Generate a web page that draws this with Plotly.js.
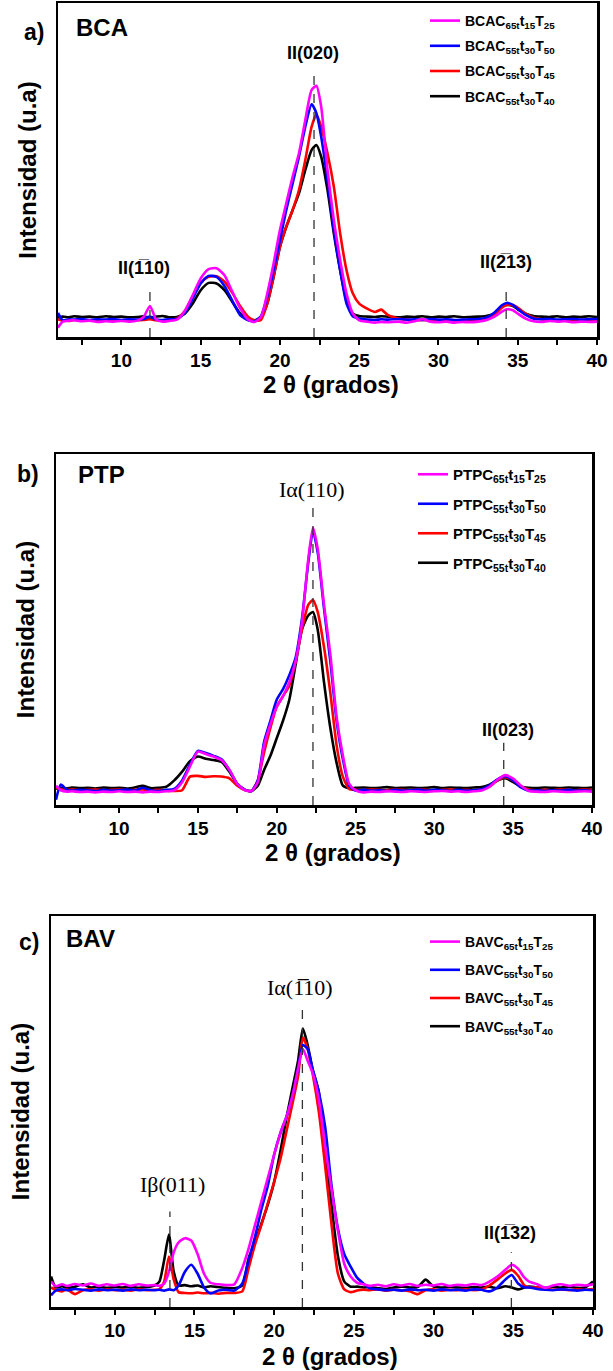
<!DOCTYPE html>
<html>
<head>
<meta charset="utf-8">
<script src="https://cdn.plot.ly/plotly-3.0.1.min.js"></script>
<style>
html,body{margin:0;padding:0;background:#fff;}
#chart{width:613px;height:1371px;}
</style>
</head>
<body>
<div id="chart"></div>
<script>
// ---------------- Panel a) BCA ----------------
const xA = [
  6, 6.3, 6.7, 7, 7.5, 8, 8.5, 9, 9.5, 10,
  10.5, 11, 11.4, 11.8, 12.2, 12.6, 13, 13.5, 14, 14.5,
  15, 15.5, 16, 16.5, 17, 17.5, 18, 18.4, 18.8, 19.2,
  19.6, 20, 20.4, 20.8, 21.2, 21.6, 22, 22.3, 22.6, 23,
  23.4, 23.8, 24.2, 24.6, 25, 25.5, 26, 26.4, 26.8, 27.5,
  28, 28.5, 29, 29.5, 30, 30.5, 31, 31.5, 32, 32.5,
  33, 33.5, 34, 34.3, 34.7, 35, 35.5, 36, 36.5, 37,
  37.5, 38, 38.5, 39, 39.5, 40];
const magentaA = [
  2.8, 4.6, 4.9, 5.0, 4.7, 4.9, 4.5, 4.7, 4.6, 4.8,
  4.6, 4.9, 6.0, 9.3, 5.2, 4.6, 4.8, 5.2, 7.8, 12.5,
  17.5, 20.3, 20.6, 18.5, 13.5, 8.5, 5.2, 4.5, 6.0, 13,
  22, 32, 40, 48, 55, 65, 74, 75.2, 69, 50,
  35, 23, 13, 7, 5, 4.6, 4.3, 4.5, 4.4, 4.6,
  4.3, 4.7, 5.3, 4.6, 4.4, 4.6, 4.3, 4.5, 4.4, 4.6,
  5.0, 6.0, 7.6, 8.3, 8.0, 7.0, 5.5, 4.7, 4.5, 4.8,
  4.6, 4.7, 4.4, 4.6, 4.5, 4.6];
const blueA = [
  7.2, 5.0, 5.3, 5.2, 5.4, 5.1, 5.3, 5.2, 5.4, 5.1,
  5.3, 5.2, 5.4, 6.1, 5.2, 5.1, 5.3, 5.4, 7.2, 11.5,
  16, 18.3, 18.0, 15.3, 10.8, 6.5, 5.0, 4.8, 6.2, 12,
  20, 29, 38, 46, 54, 63, 69.7, 67, 60, 47,
  32, 20, 10, 6.2, 5.5, 5.2, 5.1, 5.3, 5.2, 5.4,
  5.2, 5.3, 5.1, 5.4, 5.2, 5.3, 5.1, 5.2, 5.3, 5.4,
  5.8, 7.2, 9.5, 10.2, 9.6, 8.4, 6.6, 5.5, 5.3, 5.4,
  5.2, 5.3, 5.4, 5.2, 5.3, 5.4];
const redA = [
  5.3, 5.0, 4.8, 5.1, 4.9, 5.0, 4.8, 5.1, 4.9, 5.0,
  4.8, 5.0, 5.1, 5.3, 5.0, 4.9, 5.1, 5.6, 7.8, 12.2,
  16.2, 18.0, 18.2, 16.6, 13.2, 9.2, 6.0, 5.0, 5.1, 10,
  18, 27, 33, 38, 44, 53, 63, 66.5, 63, 55,
  45, 31, 20, 13, 10, 8.5, 7.5, 8.2, 6.6, 5.5,
  5.2, 5.0, 5.1, 4.9, 5.0, 5.1, 4.9, 5.0, 5.1, 5.2,
  5.6, 6.6, 8.8, 9.6, 9.5, 8.8, 7.0, 5.8, 5.3, 5.1,
  5.0, 5.2, 4.9, 5.1, 5.0, 5.1];
const blackA = [
  5.8, 6.1, 5.9, 6.2, 6.0, 6.1, 5.9, 6.2, 6.0, 6.1,
  5.9, 6.0, 6.2, 5.8, 6.1, 6.3, 5.9, 6.0, 7.0, 10,
  14, 16.2, 16.0, 14.0, 10.5, 7.0, 5.5, 5.0, 5.9, 10,
  18, 27, 33, 38, 43, 50, 56, 57.5, 54, 44,
  31, 20, 11, 7, 6.3, 6.1, 6.0, 6.2, 6.1, 5.9,
  6.1, 6.0, 6.2, 5.9, 6.1, 6.0, 6.2, 5.9, 6.0, 6.1,
  6.3, 7.0, 9.0, 9.6, 9.3, 8.3, 7.0, 6.3, 6.1, 6.0,
  6.2, 5.9, 6.1, 6.0, 6.2, 6.0];
const namesA = [
  'BCAC<sub>65t</sub>t<sub>15</sub>T<sub>25</sub>',
  'BCAC<sub>55t</sub>t<sub>30</sub>T<sub>50</sub>',
  'BCAC<sub>55t</sub>t<sub>30</sub>T<sub>45</sub>',
  'BCAC<sub>55t</sub>t<sub>30</sub>T<sub>40</sub>'];
const peakXA = [11.8, 22.15, 34.27];
const peakLabelXA = [11.4, 22.07, 34.27];
const peakLabelYA = [20.6, 85, 22.5];
const peakTopA = [16, 79, 14];
const peakTextA = ['II(1\u030510)', 'II(020)', 'II(2\u030513)'];
const peakSerifA = [false, false, false];

// ---------------- Panel b) PTP ----------------
const xB = [
  6, 6.3, 6.7, 7, 7.5, 8, 8.5, 9, 9.5, 10,
  10.5, 11, 11.5, 12, 12.5, 13, 13.5, 14, 14.5, 15,
  15.5, 16, 16.5, 17, 17.5, 18, 18.4, 18.8, 19.2, 19.6,
  20, 20.4, 20.8, 21.2, 21.6, 22, 22.3, 22.6, 23, 23.4,
  23.8, 24.2, 24.6, 25, 25.5, 26, 26.5, 27, 27.5, 28,
  28.5, 29, 29.5, 30, 30.5, 31, 31.5, 32, 32.5, 33,
  33.5, 34, 34.5, 35, 35.5, 36, 36.5, 37, 37.5, 38,
  38.5, 39, 39.5, 40];
const magentaB = [
  5.5, 4.2, 3.8, 3.9, 3.7, 3.8, 3.6, 3.8, 3.7, 3.9,
  3.7, 3.8, 3.6, 3.8, 3.7, 3.9, 4.2, 6.5, 11, 15.2,
  14.5, 13.8, 12.8, 10, 6, 4.2, 4.0, 6.5, 17, 23,
  28, 31, 35, 41, 52, 70, 79, 73, 57, 43,
  25, 14, 6, 4.2, 3.6, 3.8, 3.7, 3.9, 3.8, 3.7,
  3.9, 3.8, 3.7, 3.9, 4.0, 3.8, 3.9, 3.7, 3.9, 4.1,
  5.2, 7.2, 8.5, 7.5, 5.5, 4.0, 3.8, 3.7, 3.9, 3.8,
  3.7, 3.8, 3.9, 3.8];
const blueB = [
  1.5, 5.8, 4.3, 4.1, 4.3, 4.2, 4.0, 4.3, 4.1, 4.2,
  4.4, 4.1, 4.9, 4.2, 4.0, 4.3, 4.6, 7.0, 11.5, 15.4,
  14.8, 14.0, 13.0, 10, 6, 4.3, 4.0, 7, 18, 24,
  30, 33, 37, 42, 53, 69, 78, 72, 56, 41,
  24, 13, 5.5, 4.1, 4.3, 4.1, 4.2, 4.0, 4.3, 4.1,
  4.2, 4.4, 4.1, 4.3, 4.2, 4.0, 4.3, 4.1, 4.2, 4.5,
  5.6, 7.3, 8.2, 7.0, 5.0, 4.1, 4.2, 4.0, 4.2, 4.1,
  4.3, 4.1, 4.2, 4.0];
const redB = [
  5.0, 4.5, 4.3, 4.4, 4.2, 4.3, 4.4, 4.2, 4.3, 4.4,
  4.2, 4.3, 4.4, 4.2, 4.3, 4.1, 4.0, 4.2, 8.1, 8.3,
  8.0, 8.2, 8.1, 7.6, 5.5, 4.2, 4.0, 7, 15, 22,
  28, 31, 34, 41, 50, 57, 58.4, 55, 45, 32,
  17, 8, 4.6, 4.3, 4.2, 4.4, 4.3, 4.2, 4.4, 4.3,
  4.2, 4.4, 4.3, 4.1, 4.3, 4.4, 4.2, 4.3, 4.2, 4.4,
  5.3, 7.0, 7.9, 7.0, 5.2, 4.4, 4.2, 4.3, 4.2, 4.4,
  4.3, 4.2, 4.4, 4.3];
const blackB = [
  4.6, 4.9, 4.7, 5.0, 4.8, 4.9, 4.7, 5.0, 4.8, 4.9,
  4.7, 5.0, 5.5, 4.8, 4.9, 5.2, 7.0, 9.5, 12.5, 13.8,
  13.2, 12.8, 12.3, 9.5, 6, 4.3, 4.0, 5.5, 10, 14,
  19, 24, 30, 40, 50, 54, 55, 50, 35, 22,
  12, 5.5, 4.8, 4.9, 5.0, 4.8, 4.9, 5.1, 4.8, 4.9,
  5.0, 4.8, 4.9, 5.1, 4.8, 5.0, 4.9, 4.8, 5.0, 5.1,
  5.8, 7.0, 7.6, 6.5, 5.2, 4.9, 4.8, 5.0, 4.9, 4.8,
  5.0, 4.9, 4.8, 5.0];
const namesB = [
  'PTPC<sub>65t</sub>t<sub>15</sub>T<sub>25</sub>',
  'PTPC<sub>55t</sub>t<sub>30</sub>T<sub>50</sub>',
  'PTPC<sub>55t</sub>t<sub>30</sub>T<sub>45</sub>',
  'PTPC<sub>55t</sub>t<sub>30</sub>T<sub>40</sub>'];
const peakXB = [22.3, 34.4];
const peakLabelXB = [22.27, 34.7];
const peakLabelYB = [90, 21.4];
const peakTopB = [85, 17.7];
const peakTextB = ['I\u03b1(110)', 'II(023)'];
const peakSerifB = [true, false];

// ---------------- Panel c) BAV ----------------
const xC = [
  6, 6.3, 6.7, 7, 7.5, 8, 8.5, 9, 9.5, 10,
  10.5, 11, 11.5, 12, 12.5, 12.8, 13.1, 13.4, 13.7, 14,
  14.4, 14.8, 15.2, 15.6, 16, 16.5, 17, 17.5, 18, 18.4,
  18.8, 19.2, 19.6, 20, 20.4, 20.8, 21.2, 21.5, 21.8, 22.1,
  22.4, 22.8, 23.2, 23.6, 24, 24.4, 24.8, 25.2, 25.6, 26,
  26.5, 27, 27.5, 28, 28.5, 29, 29.5, 30, 30.5, 31,
  31.5, 32, 32.5, 33, 33.5, 34, 34.5, 34.9, 35.3, 35.7,
  36, 36.5, 37, 37.5, 38, 38.5, 39, 39.5, 40];
const magentaC = [
  6.5, 5.3, 5.8, 5.4, 5.9, 5.5, 6.0, 5.4, 5.8, 5.5,
  5.9, 5.4, 5.8, 5.5, 5.6, 5.4, 6.0, 9.0, 14, 16.5,
  17.6, 17.0, 13.5, 8.5, 6.2, 5.8, 5.6, 5.8, 10, 15,
  21, 27, 33, 39, 44.6, 49, 55, 61, 66, 63,
  60, 53, 41, 30, 19.5, 11, 7.8, 6.2, 5.8, 5.4,
  5.7, 5.3, 5.8, 5.5, 5.9, 5.4, 5.7, 5.5, 5.9, 5.4,
  5.7, 5.5, 5.9, 5.6, 6.5, 7.8, 9.5, 10.8, 9.8, 7.5,
  6.5, 5.8, 4.9, 5.5, 5.8, 5.4, 5.7, 5.5, 5.8];
const blueC = [
  3.0, 4.2, 4.5, 4.3, 4.6, 4.4, 4.2, 4.5, 4.3, 4.4,
  4.2, 4.5, 4.3, 4.4, 4.3, 4.4, 4.2, 4.5, 4.3, 5.5,
  9.0, 10.8, 8.5, 5.0, 3.5, 4.2, 4.4, 4.2, 6, 12,
  18, 25, 31, 39, 44.6, 49, 55, 61, 67, 66,
  61, 55, 46, 31, 20, 13.5, 10.3, 7.5, 6.0, 4.8,
  4.5, 4.3, 4.4, 4.2, 4.5, 4.3, 4.4, 4.2, 4.5, 4.3,
  4.4, 4.2, 4.5, 4.4, 4.0, 5.0, 7.0, 8.2, 6.0, 5.0,
  5.0, 4.6, 4.4, 4.3, 4.5, 4.4, 4.2, 4.4, 4.3];
const redC = [
  5.0, 4.4, 4.0, 4.5, 3.3, 4.3, 4.5, 4.2, 4.5, 4.3,
  4.4, 4.2, 4.5, 4.3, 4.4, 4.5, 6.5, 12.9, 7.0, 3.8,
  3.6, 3.5, 3.7, 3.5, 3.6, 3.4, 3.6, 3.6, 4.0, 10,
  16, 21, 26.5, 32, 38, 45.5, 53, 59, 69, 66,
  60, 50, 36, 21, 8.5, 4.5, 3.8, 4.2, 4.4, 4.3,
  4.5, 4.2, 4.4, 4.3, 4.0, 3.3, 4.3, 4.5, 4.2, 4.4,
  4.3, 4.5, 4.3, 4.5, 5.5, 7.0, 8.6, 9.5, 8.0, 5.5,
  5.0, 5.0, 4.6, 4.4, 4.5, 4.3, 4.5, 4.4, 4.6];
const blackC = [
  7.8, 5.0, 5.3, 4.9, 5.2, 5.8, 5.0, 5.2, 4.9, 5.1,
  5.0, 5.2, 4.9, 5.1, 5.5, 6.5, 12, 18.5, 9, 5.5,
  5.6, 5.3, 5.5, 5.0, 5.3, 5.1, 4.9, 4.8, 5.5, 12.5,
  16.5, 21.3, 26.2, 32, 40, 49, 57, 63, 71.2, 67,
  61, 55, 40, 26, 13, 6.5, 5.2, 5.2, 5.0, 5.1,
  4.8, 4.6, 5.0, 5.2, 5.0, 5.1, 7.0, 5.2, 5.0, 5.1,
  5.0, 4.9, 5.1, 5.0, 5.2, 4.8, 5.3, 5.0, 4.5, 5.0,
  5.2, 5.0, 4.9, 5.1, 5.0, 5.2, 4.9, 5.0, 6.5];
const namesC = [
  'BAVC<sub>65t</sub>t<sub>15</sub>T<sub>25</sub>',
  'BAVC<sub>55t</sub>t<sub>30</sub>T<sub>50</sub>',
  'BAVC<sub>55t</sub>t<sub>30</sub>T<sub>45</sub>',
  'BAVC<sub>55t</sub>t<sub>30</sub>T<sub>40</sub>'];
const peakXC = [13.46, 21.77, 34.88];
const peakLabelXC = [13.6, 21.6, 34.8];
const peakLabelYC = [31.3, 81.8, 19];
const peakTopC = [24.4, 77, 14];
const peakTextC = ['I\u03b2(011)', 'I\u03b1(1\u030510)', 'II(1\u030532)'];
const peakSerifC = [true, true, false];

const xTicks = [10, 15, 20, 25, 30, 35, 40];
const xTitle = '2 \u03b8 (grados)';
const yTitle = 'Intensidad (u.a)';
const panelLetters = ['a)', 'b)', 'c)'];
const panelNames = ['BCA', 'PTP', 'BAV'];
const seriesColors = ['#ff00ff', '#0000ff', '#ff0000', '#000000'];

// ---------------- Build figure ----------------
const W = 613, H = 1371;
const SANS = 'Liberation Sans, Arial, sans-serif';
const SERIF = 'Liberation Serif, Times New Roman, serif';

const panels = [
  {xs: xA, ys: [magentaA, blueA, redA, blackA], names: namesA,
   px: [58, 597], py: [3, 337], pk: [peakXA, peakLabelXA, peakLabelYA, peakTopA, peakTextA, peakSerifA],
   legPos: [425, 5], legFont: 14, legGap: 4, letterPos: [34, 32], namePos: [102, 28], xTitlePos: [331, 384]},
  {xs: xB, ys: [magentaB, blueB, redB, blackB], names: namesB,
   px: [56, 592], py: [454, 805], pk: [peakXB, peakLabelXB, peakLabelYB, peakTopB, peakTextB, peakSerifB],
   legPos: [413, 458], legFont: 15, legGap: 7, letterPos: [28, 474], namePos: [101, 474], xTitlePos: [333, 852]},
  {xs: xC, ys: [magentaC, blueC, redC, blackC], names: namesC,
   px: [51, 593], py: [916, 1307], pk: [peakXC, peakLabelXC, peakLabelYC, peakTopC, peakTextC, peakSerifC],
   legPos: [425, 926], legFont: 14, legGap: 7, letterPos: [29, 942], namePos: [90, 938], xTitlePos: [330, 1356]}
];

const data = [];
const layout = {
  width: W, height: H,
  margin: {l: 0, r: 0, t: 0, b: 0},
  paper_bgcolor: '#fff', plot_bgcolor: '#fff',
  font: {family: SANS, color: '#000'},
  showlegend: true,
  annotations: [], shapes: []
};

panels.forEach((p, i) => {
  const sfx = i === 0 ? '' : String(i + 1);
  const xa = 'x' + sfx, ya = 'y' + sfx;
  const legName = 'legend' + sfx;
  // draw black, red, blue, magenta (magenta on top); legend ranked magenta first
  for (let k = 3; k >= 0; k--) {
    data.push({
      type: 'scatter', mode: 'lines',
      x: p.xs, y: p.ys[k], name: p.names[k],
      xaxis: xa, yaxis: ya, legend: legName, legendgroup: 'g' + i + k, legendrank: k + 1,
      line: {color: seriesColors[k], width: 2.6, shape: 'spline', smoothing: 0.6},
      hoverinfo: 'skip'
    });
  }
  layout['xaxis' + sfx] = {
    domain: [p.px[0] / W, p.px[1] / W], anchor: ya, range: [6, 40],
    tickvals: xTicks, ticks: 'outside', ticklen: 5, tickwidth: 2, tickcolor: '#000',
    showline: true, mirror: true, linecolor: '#000', linewidth: 2.5,
    showgrid: false, zeroline: false,
    tickfont: {family: SANS, size: 19, weight: 'bold', color: '#000'},
    minor: {dtick: 2.5, tick0: 0, ticks: 'outside', ticklen: 5, tickwidth: 2, tickcolor: '#000', showgrid: false},
    automargin: false, fixedrange: true
  };
  layout['yaxis' + sfx] = {
    domain: [1 - p.py[1] / H, 1 - p.py[0] / H], anchor: xa, range: [0, 100],
    showticklabels: false, ticks: '',
    showline: true, mirror: true, linecolor: '#000', linewidth: 2.5,
    showgrid: false, zeroline: false,
    title: {text: yTitle, font: {family: SANS, size: 24, weight: 'bold', color: '#000'}, standoff: 12},
    automargin: false, fixedrange: true
  };
  layout[legName] = {
    x: p.legPos[0] / W, y: 1 - p.legPos[1] / H, xanchor: 'left', yanchor: 'top',
    bgcolor: 'rgba(0,0,0,0)', borderwidth: 0,
    font: {family: SANS, size: p.legFont, weight: 'bold', color: '#000'},
    traceorder: 'grouped', tracegroupgap: p.legGap, itemclick: false
  };
  // x-axis title
  layout.annotations.push({
    xref: 'paper', yref: 'paper', x: p.xTitlePos[0] / W, y: 1 - p.xTitlePos[1] / H,
    xanchor: 'center', yanchor: 'middle', showarrow: false, text: xTitle, borderpad: 0,
    font: {family: SANS, size: 24, weight: 'bold', color: '#000'}
  });
  // panel letter and sample name
  layout.annotations.push({
    xref: 'paper', yref: 'paper', x: p.letterPos[0] / W, y: 1 - p.letterPos[1] / H,
    xanchor: 'center', yanchor: 'middle', showarrow: false, text: panelLetters[i],
    font: {family: SANS, size: 23, weight: 'bold', color: '#000'}
  });
  layout.annotations.push({
    xref: 'paper', yref: 'paper', x: p.namePos[0] / W, y: 1 - p.namePos[1] / H,
    xanchor: 'center', yanchor: 'middle', showarrow: false, text: panelNames[i],
    font: {family: SANS, size: 24, weight: 'bold', color: '#000'}
  });
  // peak labels and dashed markers
  const [pX, pLX, pLY, pTop, pTxt, pSerif] = p.pk;
  pX.forEach((xv, j) => {
    layout.shapes.push({
      type: 'line', xref: xa, yref: ya, x0: xv, x1: xv, y0: 0, y1: pTop[j],
      line: {color: '#333', width: 1.3, dash: 'dash'}, layer: 'above'
    });
    layout.annotations.push({
      xref: xa, yref: ya, x: pLX[j], y: pLY[j], xanchor: 'center', yanchor: 'middle',
      showarrow: false, text: pTxt[j],
      font: pSerif[j] ? {family: SERIF, size: 22, color: '#000'}
                      : {family: SANS, size: 18, weight: 'bold', color: '#000'}
    });
  });
});

Plotly.newPlot('chart', data, layout, {displayModeBar: false, staticPlot: true});
</script>
</body>
</html>
